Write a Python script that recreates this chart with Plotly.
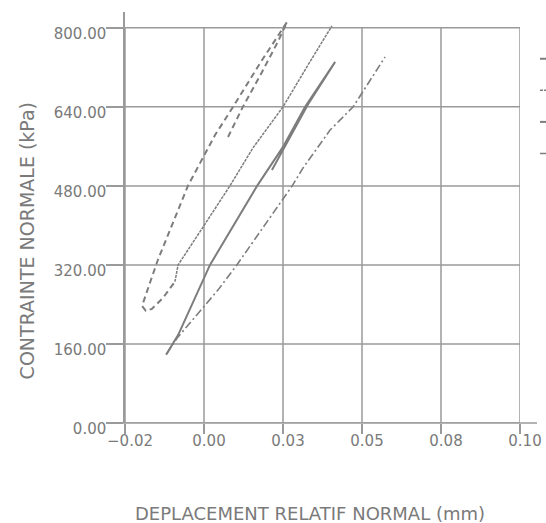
import plotly.graph_objects as go

# ---- data ----
s1_x = [0.0076, 0.0123, 0.0184, 0.0234, 0.0263, 0.0184, 0.0092, 0.0035, -0.0051,
        -0.0111, -0.0146, -0.0171, -0.0190, -0.0196, -0.0184, -0.0165, -0.0130, -0.0092]
s1_y = [579, 640, 711, 772, 812, 735, 640, 583, 480, 387, 330, 284, 249, 237, 227, 231, 253, 286]

s2_x = [-0.0092, -0.0082, -0.0013, 0.0082, 0.0155, 0.0250, 0.0335, 0.0405]
s2_y = [286, 320, 387, 480, 557, 640, 731, 804]

s3_x = [0.0215, 0.0332, 0.0415, 0.0320, 0.0250, 0.0168, 0.0019, -0.0082, -0.0120]
s3_y = [512, 648, 731, 640, 559, 480, 320, 178, 138]

s4_x = [-0.0118, -0.0085, 0.0044, 0.0104, 0.0279, 0.0313, 0.0399, 0.0472, 0.0573]
s4_y = [140, 172, 269, 320, 480, 516, 593, 640, 741]

x_tickvals = [-0.025, 0.0, 0.025, 0.05, 0.075, 0.1]
x_ticktext = ["\u22120.02", "0.00", "0.03", "0.05", "0.08", "0.10"]
y_tickvals = [0, 160, 320, 480, 640, 800]
y_ticktext = ["0.00", "160.00", "320.00", "480.00", "640.00", "800.00"]

x_title = "DEPLACEMENT RELATIF NORMAL (mm)"
y_title = "CONTRAINTE NORMALE (kPa)"

# ---- style ----
LINE = "#7d7d7d"
GRID = "#9a9a9a"
TEXT = "#7a7a7a"
FONT = "DejaVu Sans"

fig = go.Figure()
styles = [
    dict(width=2.0, dash="6px,4px"),
    dict(width=1.5, dash="3px,1px"),
    dict(width=2.0, dash="solid"),
    dict(width=1.6, dash="8px,3px,2px,3px"),
]
for xs, ys, st in zip([s1_x, s2_x, s3_x, s4_x], [s1_y, s2_y, s3_y, s4_y], styles):
    fig.add_trace(go.Scatter(x=xs, y=ys, mode="lines", name="",
                             line=dict(color=LINE, width=st["width"], dash=st["dash"]),
                             cliponaxis=False))

shapes = []
for xv in x_tickvals:
    shapes.append(dict(type="line", xref="x", yref="y", x0=xv, x1=xv, y0=0, y1=800,
                       line=dict(color=GRID, width=1.5), layer="below"))
for yv in y_tickvals:
    shapes.append(dict(type="line", xref="x", yref="y", x0=x_tickvals[0], x1=x_tickvals[-1],
                       y0=yv, y1=yv, line=dict(color=GRID, width=1.5), layer="below"))
# extended bottom axis line
shapes.append(dict(type="line", xref="paper", yref="paper", x0=-0.03, x1=1.043, y0=0, y1=0,
                   line=dict(color=GRID, width=1.5)))

fig.update_layout(
    width=546, height=523,
    margin=dict(l=125, r=26, t=12, b=100, autoexpand=False),
    paper_bgcolor="white", plot_bgcolor="white",
    font=dict(family=FONT, color=TEXT, size=15),
    shapes=shapes,
    showlegend=True,
    legend=dict(x=1.038, y=0.937, xanchor="left", yanchor="top",
                font=dict(size=22, color=TEXT), bgcolor="rgba(0,0,0,0)",
                tracegroupgap=0),
    xaxis=dict(range=[-0.025, 0.1], tickvals=x_tickvals, ticktext=x_ticktext,
               showgrid=False, zeroline=False, showline=False,
               ticks="outside", ticklen=10, tickwidth=1.5, tickcolor=GRID,
               ticklabelshift=5, ticklabelstandoff=-6,
               tickfont=dict(size=15, color=TEXT, family=FONT)),
    yaxis=dict(range=[0, 832], tickvals=y_tickvals, ticktext=y_ticktext,
               showgrid=False, zeroline=False, showline=True, linecolor=GRID, linewidth=1.5,
               ticks="outside", ticklen=17, tickwidth=1.5, tickcolor=GRID,
               ticklabelshift=6, ticklabelstandoff=-3,
               tickfont=dict(size=15, color=TEXT, family=FONT)),
    annotations=[
        dict(text=x_title, xref="paper", yref="paper", x=0.468, y=-0.219,
             xanchor="center", yanchor="middle", showarrow=False,
             font=dict(size=18, color=TEXT, family=FONT)),
        dict(text=y_title, xref="paper", yref="paper", x=-0.248, y=0.442,
             xanchor="center", yanchor="middle", showarrow=False, textangle=-90,
             font=dict(size=19, color=TEXT, family=FONT)),
    ],
)

fig.write_html("out.html")
